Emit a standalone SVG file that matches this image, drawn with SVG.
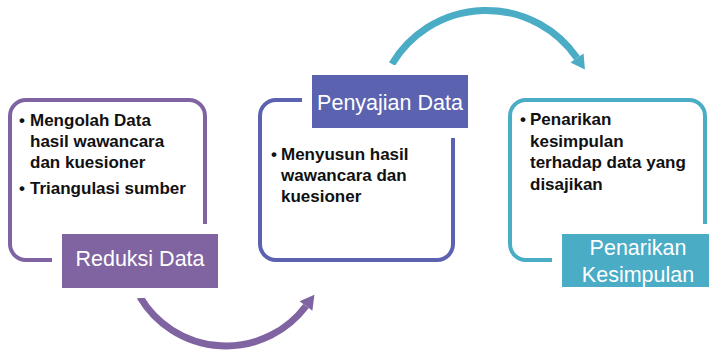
<svg xmlns="http://www.w3.org/2000/svg" width="716" height="350" viewBox="0 0 716 350">
<style>
.frame{fill:#fff;stroke-width:4}
.lbl{stroke:#fff;stroke-width:10}
.lt{font-family:"Liberation Sans",Arial,sans-serif;font-size:21.5px;fill:#fff;text-anchor:middle}
.bt{font-family:"Liberation Sans",Arial,sans-serif;font-size:17px;font-weight:bold;fill:#111}
.conn{fill:none;stroke-width:7}
</style>
<defs>
<marker id="ahP" markerUnits="userSpaceOnUse" markerWidth="20" markerHeight="20" viewBox="0 -10 16 20" refX="0" refY="0" orient="auto">
<path d="M0,-8 L14,0 L0,8 z" fill="#8064A2"/>
</marker>
<marker id="ahT" markerUnits="userSpaceOnUse" markerWidth="20" markerHeight="20" viewBox="0 -10 16 20" refX="0" refY="0" orient="auto">
<path d="M0,-8 L14,0 L0,8 z" fill="#4BACC6"/>
</marker>
</defs>
<rect width="716" height="350" fill="#fff"/>
<g id="connectors">
<path class="conn" stroke="#8064A2" d="M140,297 A100 100 0 0 0 306,306" marker-end="url(#ahP)"/>
<path class="conn" stroke="#4BACC6" d="M392,64 A110 110 0 0 1 577,58" marker-end="url(#ahT)"/>
</g>
<g id="reduksi">
<rect class="frame" x="10" y="100" width="195" height="160" rx="16" stroke="#8064A2"/>
<rect class="lbl" x="57" y="229" width="166" height="64" rx="4" fill="#8064A2"/>
<text class="lt" x="140" y="266">Reduksi Data</text>
<text class="bt" x="19" y="126">•</text>
<text class="bt" x="30" y="126">Mengolah Data</text>
<text class="bt" x="30" y="147">hasil wawancara</text>
<text class="bt" x="30" y="168">dan kuesioner</text>
<text class="bt" x="19" y="194">•</text>
<text class="bt" x="30" y="194">Triangulasi sumber</text>
</g>
<g id="penyajian">
<rect class="frame" x="260" y="100" width="193" height="160" rx="16" stroke="#5B63B1"/>
<rect class="lbl" x="307" y="70" width="166" height="63" rx="4" fill="#5B63B1"/>
<text class="lt" x="390" y="110">Penyajian Data</text>
<text class="bt" x="271" y="160">•</text>
<text class="bt" x="281" y="160">Menyusun hasil</text>
<text class="bt" x="281" y="181">wawancara dan</text>
<text class="bt" x="281" y="202">kuesioner</text>
</g>
<g id="penarikan">
<rect class="frame" x="510" y="100" width="195" height="160" rx="16" stroke="#4BACC6"/>
<rect class="lbl" x="557" y="229" width="157" height="63" rx="4" fill="#4BACC6"/>
<text class="lt" x="638" y="255">Penarikan</text>
<text class="lt" x="638" y="282">Kesimpulan</text>
<text class="bt" x="520" y="125">•</text>
<text class="bt" x="530" y="125">Penarikan</text>
<text class="bt" x="530" y="147">kesimpulan</text>
<text class="bt" x="530" y="168">terhadap data yang</text>
<text class="bt" x="530" y="190">disajikan</text>
</g>
</svg>
